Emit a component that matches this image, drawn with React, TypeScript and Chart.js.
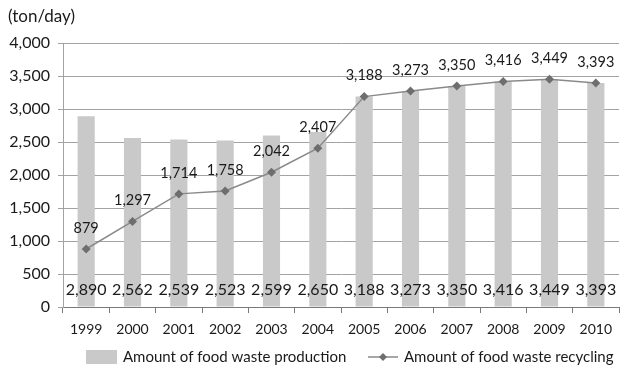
import React, { useEffect, useRef } from "react";
import { Chart, registerables } from "chart.js";

Chart.register(...registerables);

const years = ["1999", "2000", "2001", "2002", "2003", "2004", "2005", "2006", "2007", "2008", "2009", "2010"];
const production = [2890, 2562, 2539, 2523, 2599, 2650, 3188, 3273, 3350, 3416, 3449, 3393];
const recycling = [879, 1297, 1714, 1758, 2042, 2407, 3188, 3273, 3350, 3416, 3449, 3393];
const yTicks = [0, 500, 1000, 1500, 2000, 2500, 3000, 3500, 4000];
const unitLabel = "(ton/day)";
const productionLabel = "Amount of food waste production";
const recyclingLabel = "Amount of food waste recycling";

const FONT = "Lato, 'Open Sans', sans-serif";
const BAR_COLOR = "#c9c9c9";
const LINE_COLOR = "#8a8a8a";
const POINT_COLOR = "#6e6e6e";
const TEXT_COLOR = "#1a1a1a";

const fmt = (v: number) => v.toLocaleString("en-US");

const extrasPlugin = {
  id: "extras",
  afterDatasetsDraw(chart: any) {
    const { ctx, chartArea } = chart;
    ctx.save();
    ctx.fillStyle = TEXT_COLOR;
    ctx.textAlign = "center";
    ctx.textBaseline = "middle";
    // bar labels near the bottom
    const barMeta = chart.getDatasetMeta(0);
    ctx.font = `16px ${FONT}`;
    barMeta.data.forEach((el: any, i: number) => {
      ctx.fillText(fmt(production[i]), el.x, chartArea.bottom - 17);
    });
    // line labels above points
    const lineMeta = chart.getDatasetMeta(1);
    ctx.font = `14.5px ${FONT}`;
    lineMeta.data.forEach((el: any, i: number) => {
      ctx.fillText(fmt(recycling[i]), el.x, el.y - 21);
    });
    ctx.restore();
  },
  afterDraw(chart: any) {
    const { ctx } = chart;
    ctx.save();
    ctx.fillStyle = TEXT_COLOR;
    ctx.textBaseline = "middle";
    ctx.textAlign = "left";
    ctx.font = `17px ${FONT}`;
    ctx.fillText(unitLabel, 8, 17);

    // legend
    const ly = 357;
    ctx.fillStyle = BAR_COLOR;
    ctx.fillRect(86, ly - 7, 31, 14);
    ctx.fillStyle = TEXT_COLOR;
    ctx.font = `15px ${FONT}`;
    ctx.fillText(productionLabel, 123, ly);

    ctx.strokeStyle = LINE_COLOR;
    ctx.lineWidth = 1.5;
    ctx.beginPath();
    ctx.moveTo(368, ly);
    ctx.lineTo(398, ly);
    ctx.stroke();
    ctx.fillStyle = POINT_COLOR;
    ctx.beginPath();
    ctx.moveTo(383, ly - 4);
    ctx.lineTo(387, ly);
    ctx.lineTo(383, ly + 4);
    ctx.lineTo(379, ly);
    ctx.closePath();
    ctx.fill();
    ctx.fillStyle = TEXT_COLOR;
    ctx.fillText(recyclingLabel, 404, ly);
    ctx.restore();
  },
};

export default function App() {
  const ref = useRef<HTMLCanvasElement | null>(null);

  useEffect(() => {
    document.body.style.margin = "0";
    const canvas = ref.current;
    if (!canvas) return;
    const chart = new Chart(canvas, {
      type: "bar",
      data: {
        labels: years,
        datasets: [
          {
            type: "bar",
            label: productionLabel,
            data: production,
            backgroundColor: BAR_COLOR,
            barPercentage: 0.37,
            categoryPercentage: 1,
            order: 1,
          },
          {
            type: "line",
            label: recyclingLabel,
            data: recycling,
            borderColor: LINE_COLOR,
            borderWidth: 1.5,
            pointStyle: "rectRot",
            pointRadius: 4.5,
            pointBackgroundColor: POINT_COLOR,
            pointBorderColor: POINT_COLOR,
            pointBorderWidth: 0,
            tension: 0,
            order: 0,
          } as any,
        ],
      },
      options: {
        animation: false,
        responsive: false,
        maintainAspectRatio: false,
        layout: { padding: { left: 0, right: 8, top: 43, bottom: 35 } },
        plugins: {
          legend: { display: false },
          tooltip: { enabled: false },
          title: { display: false },
        },
        scales: {
          x: {
            offset: true,
            grid: {
              offset: true,
              drawOnChartArea: false,
              drawTicks: true,
              tickLength: 6,
              color: "#7a7a7a",
            },
            border: { display: true, color: "#7a7a7a", width: 1 },
            ticks: {
              color: TEXT_COLOR,
              font: { family: FONT, size: 14 },
              padding: 8,
              maxRotation: 0,
            },
            afterFit(scale: any) {
              scale.height = 30;
            },
          },
          y: {
            min: 0,
            max: 4000,
            afterBuildTicks(scale: any) {
              scale.ticks = yTicks.map((v) => ({ value: v }));
            },
            grid: {
              color: "#a3a3a3",
              lineWidth: 1,
              drawTicks: true,
              tickLength: 5,
            },
            border: { display: true, color: "#a3a3a3" },
            ticks: {
              color: TEXT_COLOR,
              font: { family: FONT, size: 16 },
              padding: 8,
              callback: (v: any) => fmt(Number(v)),
            },
            afterFit(scale: any) {
              scale.width = 63;
            },
          },
        },
      },
      plugins: [extrasPlugin],
    });
    return () => chart.destroy();
  }, []);

  return (
    <div style={{ width: 627, height: 372, background: "#fff" }}>
      <canvas ref={ref} width={627} height={372} style={{ display: "block" }} />
    </div>
  );
}
